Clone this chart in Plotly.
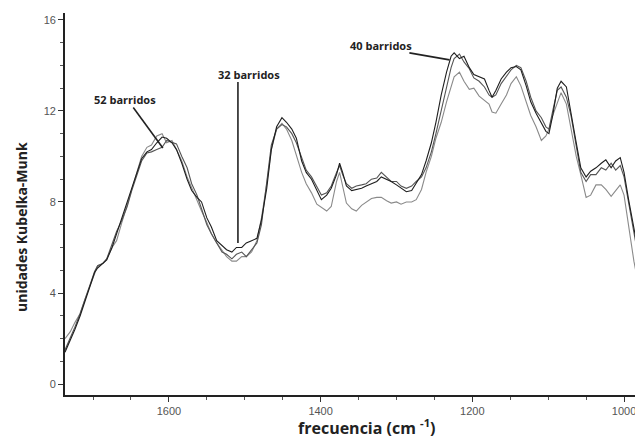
import plotly.graph_objects as go

# wavenumber grid (cm-1), shared by the three spectra
freq = [1737, 1730, 1724, 1717, 1711, 1704, 1698, 1694, 1687, 1682, 1675, 1669, 1662, 1655,
        1649, 1642, 1636, 1629, 1623, 1616, 1609, 1603, 1596, 1590, 1583, 1576, 1570, 1563,
        1557, 1550, 1544, 1537, 1530, 1524, 1517, 1511, 1504, 1498, 1491, 1484, 1478, 1471,
        1465, 1458, 1451, 1445, 1438, 1432, 1425, 1419, 1412, 1405, 1399, 1392, 1386, 1379,
        1375, 1371, 1366, 1359, 1353, 1346, 1340, 1333, 1326, 1320, 1313, 1307, 1300, 1294,
        1287, 1280, 1274, 1267, 1261, 1254, 1248, 1241, 1234, 1228, 1224, 1217, 1211, 1204,
        1198, 1191, 1184, 1178, 1174, 1169, 1162, 1155, 1149, 1142, 1136, 1129, 1123, 1116,
        1109, 1103, 1099, 1094, 1088, 1083, 1076, 1070, 1063, 1057, 1050, 1044, 1037, 1030,
        1024, 1017, 1011, 1005, 1000, 994, 987, 980, 976]

km_black = [1.4, 1.9, 2.4, 3.0, 3.6, 4.3, 4.9, 5.1, 5.3, 5.45, 6.0, 6.6, 7.3, 7.9,
            8.6, 9.3, 9.9, 10.2, 10.3, 10.6, 10.85, 10.8, 10.6, 10.3, 9.7, 9.0, 8.5, 8.2,
            8.0, 7.3, 6.9, 6.3, 6.1, 5.9, 5.8, 6.0, 6.0, 6.2, 6.3, 6.4, 7.2, 8.6,
            10.3, 11.3, 11.7, 11.5, 11.2, 10.8, 9.8, 9.3, 9.0, 8.5, 8.1, 8.3, 8.6, 9.2,
            9.7, 9.3, 8.7, 8.5, 8.55, 8.6, 8.7, 8.8, 8.9, 9.1, 9.0, 8.9, 8.75, 8.6,
            8.45, 8.5, 8.8, 9.2, 9.8, 10.6, 11.5, 12.7, 13.7, 14.4, 14.55, 14.3, 14.4, 13.9,
            13.6, 13.5, 13.4, 12.9, 12.6, 12.9, 13.4, 13.7, 13.9, 13.95, 13.8, 13.1, 12.4, 11.9,
            11.5, 11.1, 11.0, 11.8, 13.0, 13.3, 13.05, 12.0, 10.6, 9.5, 9.1, 9.35, 9.5, 9.7,
            9.85, 9.5, 9.8, 9.95, 9.3, 8.1, 6.9, 5.6, 4.4]

km_gray = [1.5, 2.0, 2.5, 3.1, 3.7, 4.4, 4.95, 5.2, 5.3, 5.5, 6.1, 6.7, 7.2, 7.8,
           8.5, 9.2, 9.8, 10.15, 10.2, 10.3, 10.4, 10.7, 10.6, 10.55, 10.0, 9.5, 8.8, 8.3,
           7.7, 7.0, 6.6, 6.2, 5.8, 5.7, 5.5, 5.7, 5.8, 5.6, 5.9, 6.2, 7.0, 8.8,
           10.5, 11.2, 11.4, 11.3, 11.0, 10.6, 9.9, 9.4, 9.1, 8.7, 8.3, 8.4, 8.7, 9.3,
           9.6, 9.2, 8.8, 8.6, 8.7, 8.75, 8.8, 9.0, 9.05, 9.3, 9.1, 8.9, 8.9, 8.7,
           8.6, 8.7, 8.9, 9.1, 9.5, 10.2, 11.0, 12.0, 13.0, 13.9, 14.3, 14.5, 14.15, 13.85,
           13.45, 13.3, 13.05, 12.7, 12.6, 12.7, 13.2, 13.5, 13.8, 14.0, 13.9, 13.3, 12.6, 12.0,
           11.7, 11.3, 11.2, 12.0, 12.9, 13.05, 12.6, 11.8, 10.5, 9.3, 8.9, 9.2, 9.2, 9.5,
           9.4, 9.7, 9.4, 9.6, 9.1, 8.0, 6.7, 5.3, 4.6]

km_light = [2.0, 2.3, 2.7, 3.1, 3.7, 4.3, 4.9, 5.2, 5.3, 5.5, 6.0, 6.3, 7.1, 7.9,
            8.6, 9.4, 10.0, 10.4, 10.5, 10.9, 11.0, 10.6, 10.7, 10.3, 9.8, 9.1, 8.6, 8.1,
            7.6, 7.1, 6.6, 6.2, 5.9, 5.6, 5.4, 5.4, 5.6, 5.6, 5.8, 6.3, 7.3, 8.8,
            10.3, 11.2, 11.45, 11.2, 10.7, 10.0, 9.3, 8.8, 8.4, 7.9, 7.75, 7.6, 7.8, 8.9,
            9.3, 8.7, 7.95, 7.7, 7.6, 7.85, 8.0, 8.15, 8.2, 8.2, 8.05, 7.95, 8.0, 7.9,
            8.0, 8.0, 8.1, 8.55, 9.3, 10.0, 10.8, 11.5, 12.4, 13.1, 13.5, 13.7, 13.3, 12.95,
            13.0, 12.65, 12.45, 12.3, 11.95, 11.9, 12.3, 12.7, 13.2, 13.5, 13.1, 12.4, 11.8, 11.3,
            10.7, 10.9, 11.2, 11.8, 12.4, 12.8, 12.3, 11.3, 10.0, 9.2, 8.2, 8.3, 8.75, 8.75,
            8.55, 8.25, 8.5, 8.75, 8.3, 7.0, 5.4, 4.2, 3.55]

x_ticks = [1600, 1400, 1200, 1000]
y_ticks = [0, 4, 8, 12, 16]

# annotation labels: (text, text_x, text_y, line_x0, line_y0, line_x1, line_y1)
labels = [
    ("52 barridos", 1658, 12.48, 1647, 12.15, 1608, 10.37),
    ("32 barridos", 1494, 13.58, 1509, 13.27, 1509, 6.2),
    ("40 barridos", 1321, 14.86, 1283, 14.55, 1230, 14.24),
]

fig = go.Figure()
for vals, col in [(km_light, "#8a8a8a"), (km_gray, "#555555"), (km_black, "#1e1e1e")]:
    fig.add_trace(go.Scatter(x=freq, y=vals, mode="lines",
                             line=dict(color=col, width=1.1), showlegend=False,
                             hoverinfo="skip"))

for text, tx, ty, x0, y0, x1, y1 in labels:
    fig.add_annotation(x=tx, y=ty, xref="x", yref="y", text="<b>%s</b>" % text,
                       showarrow=False, font=dict(family="Open Sans", size=11, color="#222"))
    fig.add_shape(type="line", xref="x", yref="y", x0=x0, y0=y0, x1=x1, y1=y1,
                  line=dict(color="#222", width=1.6))

# axis titles
fig.add_annotation(x=0.522, y=-0.083, xref="paper", yref="paper",
                   xanchor="center", yanchor="middle",
                   text="<b>frecuencia (cm <sup>-1</sup>)</b>", showarrow=False,
                   font=dict(family="Open Sans", size=16, color="#222"))
fig.add_annotation(x=0.0, y=0.44, xref="paper", yref="paper", xshift=-43,
                   xanchor="center", yanchor="middle",
                   text="<b>unidades Kubelka-Munk</b>", showarrow=False, textangle=-90,
                   font=dict(family="Open Sans", size=14, color="#222"))

fig.update_layout(
    width=635, height=430,
    margin=dict(l=57, r=0, t=5, b=43),
    paper_bgcolor="white", plot_bgcolor="white",
)
fig.update_xaxes(range=[1737, 975], tickvals=x_ticks, ticks="outside", ticklen=5,
                 tickcolor="#333", showline=True, linecolor="#222", linewidth=1.8,
                 showgrid=False, zeroline=False,
                 tickfont=dict(family="Liberation Sans", size=11, color="#555"),
                 minor=dict(dtick=50, tick0=1000, ticks="outside", ticklen=3, tickcolor="#555"))
fig.update_yaxes(range=[-0.48, 16.3], tickvals=y_ticks, ticks="outside", ticklen=5,
                 tickcolor="#333", showline=True, linecolor="#222", linewidth=1.8,
                 showgrid=False, zeroline=False,
                 tickfont=dict(family="Liberation Sans", size=11, color="#555"),
                 minor=dict(dtick=1, tick0=0, ticks="outside", ticklen=3, tickcolor="#555"))

fig.write_html("out.html")
